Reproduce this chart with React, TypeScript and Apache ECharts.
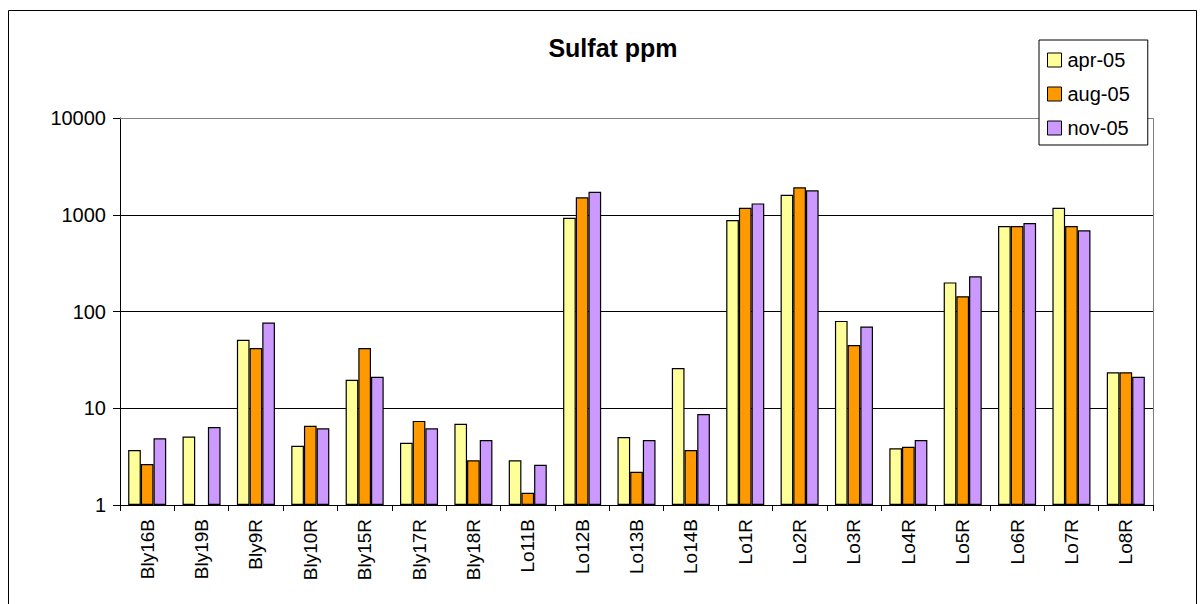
import React, { useEffect, useRef } from "react";
import * as echarts from "echarts";

const categories = ["Bly16B", "Bly19B", "Bly9R", "Bly10R", "Bly15R", "Bly17R", "Bly18R", "Lo11B", "Lo12B", "Lo13B", "Lo14B", "Lo1R", "Lo2R", "Lo3R", "Lo4R", "Lo5R", "Lo6R", "Lo7R", "Lo8R"];
const apr05 = [3.7, 5.1, 51, 4.1, 19.7, 4.4, 6.9, 2.9, 930, 5.05, 26, 880, 1610, 80, 3.86, 200, 765, 1180, 23.5];
const aug05 = [2.65, null, 42, 6.6, 42, 7.4, 2.9, 1.34, 1515, 2.2, 3.7, 1180, 1920, 45, 4.0, 144, 765, 765, 23.5];
const nov05 = [4.9, 6.4, 77, 6.2, 21.2, 6.2, 4.7, 2.6, 1730, 4.7, 8.7, 1310, 1790, 70, 4.7, 231, 820, 690, 21.2];
const seriesNames = ["apr-05", "aug-05", "nov-05"];
const colors = ["#FFFF99", "#FF9900", "#CC99FF"];

export default function App() {
  const ref = useRef<HTMLDivElement>(null);
  useEffect(() => {
    const chart = echarts.init(ref.current!, null, { renderer: "svg" });
    const font = "'Liberation Sans', Arial, sans-serif";
    const data = [apr05, aug05, nov05];
    chart.setOption({
      animation: false,
      backgroundColor: "#fff",
      textStyle: { fontFamily: font },
      title: {
        text: "Sulfat ppm",
        left: 608,
        top: 30,
        textAlign: "center",
        textStyle: { fontSize: 25, fontWeight: "bold", color: "#000", fontFamily: font },
      },
      graphic: [
        {
          type: "rect",
          shape: { x: 8.5, y: 10.5, width: 1188, height: 600 },
          style: { fill: "none", stroke: "#000", lineWidth: 1 },
          silent: true,
          z: 0,
        },
        {
          type: "polyline",
          shape: { points: [[120, 118.5], [1153.5, 118.5], [1153.5, 505]] },
          style: { fill: "none", stroke: "#808080", lineWidth: 1 },
          silent: true,
          z: 1,
        },
      ],
      legend: {
        orient: "vertical",
        left: 1039,
        top: 40,
        padding: [10, 18, 7, 8],
        itemGap: 14,
        itemWidth: 14,
        itemHeight: 14,
        backgroundColor: "#fff",
        borderColor: "#000",
        borderWidth: 1,
        textStyle: { fontSize: 20, color: "#000", fontFamily: font, padding: [0, 0, 0, 1] },
        itemStyle: { borderColor: "#000", borderWidth: 1 },
        data: seriesNames.map((n) => ({ name: n, icon: "rect" })),
        z: 10,
      },
      grid: { left: 120, right: 48, top: 118, height: 387, containLabel: false },
      xAxis: {
        type: "category",
        data: categories,
        axisLine: { lineStyle: { color: "#000", width: 1 } },
        axisTick: { show: true, length: 6, lineStyle: { color: "#000" }, alignWithLabel: false },
        axisLabel: { rotate: 90, fontSize: 19, color: "#000", margin: 14, interval: 0, fontFamily: font },
      },
      yAxis: {
        type: "log",
        logBase: 10,
        min: 1,
        max: 10000,
        axisLine: { show: true, lineStyle: { color: "#000" } },
        axisTick: { show: true, length: 7, lineStyle: { color: "#000" } },
        axisLabel: { fontSize: 20, color: "#000", margin: 14, fontFamily: font, formatter: (v: number) => String(Math.round(v)) },
        splitLine: { show: true, lineStyle: { color: "#000", width: 1 } },
        minorTick: { show: false },
      },
      series: seriesNames.map((n, i) => ({
        name: n,
        type: "bar",
        data: data[i],
        barGap: "0%",
        barCategoryGap: "30%",
        itemStyle: { color: colors[i], borderColor: "#000", borderWidth: 1.2 },
      })),
    });
    return () => chart.dispose();
  }, []);
  return <div ref={ref} style={{ position: "absolute", left: 0, top: 0, width: 1201, height: 604 }} />;
}
